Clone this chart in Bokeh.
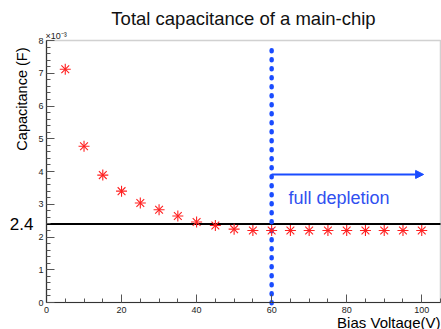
import math
from bokeh.plotting import figure
from bokeh.models import Label, Arrow, NormalHead, FixedTicker, Range1d, BoxAnnotation
from bokeh.embed import file_html
from bokeh.resources import INLINE

# data (capacitance in units of 1e-3 F)
bias_voltage = [5, 10, 15, 20, 25, 30, 35, 40, 45, 50,
                55, 60, 65, 70, 75, 80, 85, 90, 95, 100]
capacitance = [7.12, 4.77, 3.89, 3.40, 3.04, 2.83, 2.64, 2.46, 2.35, 2.24,
               2.20, 2.20, 2.20, 2.20, 2.20, 2.20, 2.20, 2.20, 2.20, 2.20]
x_major = [0, 20, 40, 60, 80, 100]
x_minor = list(range(0, 106, 5))
y_major = [0, 1, 2, 3, 4, 5, 6, 7, 8]
y_minor = [i / 5 for i in range(0, 41)]

# axis extents of the plotted box
X_MIN, X_MAX = 0, 105
Y_MIN, Y_MAX = 0, 8

ref_level = 2.4
depletion_v = 60
dotted_top = 7.7
dotted_bottom = -0.1
arrow_y = 3.91
arrow_end = 100.5
note_x, note_y = 64.5, 3.18

FONT = "Liberation Sans"
BLUE = "#1a4cff"

W, H = 441, 329
# canvas-wide frame so that texts outside the axes box are not clipped
px_x = 394 / (X_MAX - X_MIN)       # pixels per x unit
px_y = 262 / (Y_MAX - Y_MIN)       # pixels per y unit
left_px, top_px = 46, 40
x_start = X_MIN - left_px / px_x
x_end = x_start + W / px_x
y_end = Y_MAX + top_px / px_y
y_start = y_end - H / px_y

p = figure(width=W, height=H, output_backend="svg", toolbar_location=None,
           x_range=Range1d(x_start, x_end), y_range=Range1d(y_start, y_end),
           min_border=0, min_border_left=0, min_border_right=0,
           min_border_top=0, min_border_bottom=0, title=None)
p.grid.visible = False
p.outline_line_color = None
p.background_fill_color = "white"
p.border_fill_color = "white"

for ax in (p.xaxis[0], p.yaxis[0]):
    ax.fixed_location = 0
    ax.major_tick_in = 8
    ax.major_tick_out = 0
    ax.minor_tick_in = 4
    ax.minor_tick_out = 0
    ax.axis_line_color = "#333333"
    ax.axis_line_width = 1.2
    ax.major_tick_line_color = "#555555"
    ax.minor_tick_line_color = "#555555"
    ax.major_label_text_font = FONT
    ax.major_label_text_font_size = "9px"
    ax.major_label_text_color = "#222222"
    ax.major_label_standoff = 4

p.xaxis.ticker = FixedTicker(ticks=x_major, minor_ticks=x_minor)
p.yaxis.ticker = FixedTicker(ticks=y_major, minor_ticks=y_minor)
p.xaxis.bounds = (X_MIN, X_MAX)
p.yaxis.bounds = (Y_MIN, Y_MAX)
p.yaxis.major_label_standoff = 3

# axes box (top and right edges)
p.add_layout(BoxAnnotation(left=X_MIN, right=X_MAX, bottom=Y_MIN, top=Y_MAX,
                           fill_color=None, fill_alpha=0, line_color="#666666",
                           line_width=1.5, level="underlay"))

# reference horizontal line
p.segment(x0=[X_MIN], y0=[ref_level], x1=[X_MAX], y1=[ref_level],
          line_color="black", line_width=2)

# blue dotted vertical line
p.segment(x0=[depletion_v], y0=[dotted_top], x1=[depletion_v], y1=[dotted_bottom],
          line_color=BLUE, line_width=4.5, line_dash="1 8", line_cap="round")

# data points (ROOT-like star: + and x)
p.scatter(bias_voltage, capacitance, marker="cross", size=11, line_color="#ff2020", line_width=1.1)
p.scatter(bias_voltage, capacitance, marker="x", size=11, line_color="#ff2020", line_width=1.1)

# arrow and note
p.add_layout(Arrow(x_start=depletion_v, y_start=arrow_y, x_end=arrow_end, y_end=arrow_y,
                   line_color=BLUE, line_width=2,
                   end=NormalHead(size=8, fill_color=BLUE, line_color=BLUE)))
p.add_layout(Label(x=note_x, y=note_y, text="full depletion", text_font=FONT,
                   text_font_size="18px", text_color="#3050f0", text_baseline="middle"))

# title
p.add_layout(Label(x=243, y=H - 18, x_units="screen", y_units="screen",
                   text="Total capacitance of a main-chip", text_font=FONT,
                   text_font_size="18.5px", text_color="#111111",
                   text_align="center", text_baseline="middle"))

# reference label "2.4"
p.add_layout(Label(x=33, y=ref_level, x_units="screen", text="2.4", text_font=FONT,
                   text_font_size="17px", text_color="black", text_align="right",
                   text_baseline="middle"))

# exponent label
p.add_layout(Label(x=45, y=H - 35, x_units="screen", y_units="screen", text="×10⁻³",
                   text_font=FONT, text_font_size="9px", text_color="#222222",
                   text_baseline="middle"))

# axis titles (ROOT style, aligned to the end)
p.add_layout(Label(x=21, y=H - 47, x_units="screen", y_units="screen", text="Capacitance (F)",
                   angle=math.pi / 2, text_font=FONT, text_font_size="14.5px",
                   text_color="black", text_align="right", text_baseline="middle"))
p.add_layout(Label(x=440, y=H - 321.5, x_units="screen", y_units="screen",
                   text="Bias Voltage(V)", text_font=FONT, text_font_size="15px",
                   text_color="black", text_align="right", text_baseline="middle"))

open("out.html", "w").write(file_html(p, INLINE))
